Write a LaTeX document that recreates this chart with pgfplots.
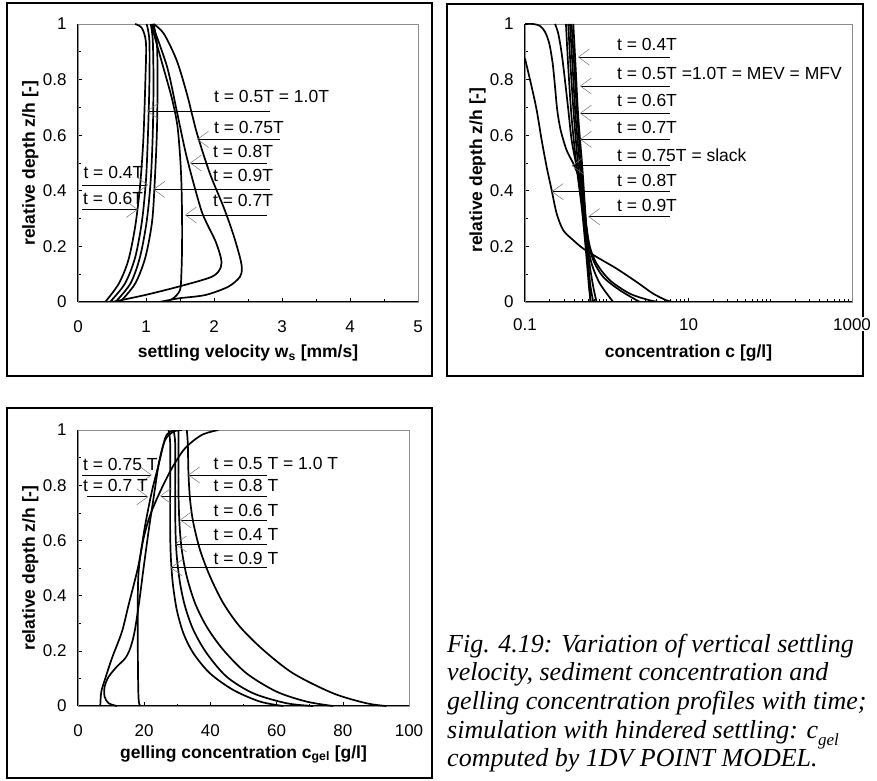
\documentclass[border=0pt]{standalone}
\usepackage{fontspec}
\setmainfont{Liberation Sans}
\newfontfamily\capfont{Liberation Serif}
\usepackage{pgfplots}
\pgfplotsset{compat=1.18}
\usetikzlibrary{arrows.meta}
\newcommand{\tickfont}{\fontsize{17}{19}\selectfont}
\newcommand{\annfont}{\fontsize{17.5}{20}\selectfont}
\newcommand{\capsize}{\fontsize{26}{28.7}\selectfont}
\pgfplotsset{
  panel/.style={
    scale only axis,
    axis x line*=bottom, axis y line*=left,
    axis line style={line width=1.1pt, black},
    tick align=inside,
    major tick length=4pt, minor tick length=2.5pt,
    tick style={line width=0.6pt, black},
    ymin=0, ymax=1,
    ytick={0,0.2,0.4,0.6,0.8,1},
    minor y tick num=1,
    ticklabel style={font=\tickfont},
    /pgf/number format/assume math mode=true,
    xticklabel style={yshift=-15pt},
    yticklabel style={xshift=-8pt},
    every axis x label/.style={at={(axis description cs:0.5,0)}, anchor=base, yshift=-56pt, font=\annfont\bfseries},
    every axis y label/.style={at={(axis description cs:0,0.5)}, xshift=-43pt, rotate=90, anchor=base, font=\annfont\bfseries},
    clip mode=individual,
  },
  curve/.style={black, line width=1.7pt, smooth, tension=0.5, mark=none},
}
\newcommand{\ann}[6]{%
  \node[anchor=base west, inner sep=0pt, font=\annfont] at (axis cs:#1,#2) {#3};
  \draw[line width=0.8pt, -{Straight Barb[length=11pt,width=16pt,line width=0.5pt,color=black!55]}] (axis cs:#4,#6) -- (axis cs:#5,#6);
}
\begin{document}
\begin{tikzpicture}
\useasboundingbox (0,0) rectangle (877pt,780pt);

% panel frames
\draw[line width=1.3pt] (7pt,404pt) rectangle (432pt,777pt);
\draw[line width=1.3pt] (447pt,404pt) rectangle (863pt,776pt);
\draw[line width=1.3pt] (7pt,2pt) rectangle (432pt,372pt);

% ---------------- Panel 1: settling velocity ----------------
\begin{axis}[panel,
  at={(78pt,478pt)}, anchor=south west,
  width=340pt, height=278pt,
  xmin=0, xmax=5, xtick={0,1,2,3,4,5}, minor x tick num=1,
  xlabel={settling velocity w\textsubscript{s} [mm/s]},
  ylabel={relative depth z/h [-]},
]
\draw[black!45, line width=0.6pt] (rel axis cs:0,0) rectangle (rel axis cs:1,1);
% t = 0.4T
\addplot[curve] coordinates {(0.40,0) (0.60,0.066) (0.74,0.15) (0.84,0.27) (0.91,0.41) (0.96,0.58) (0.99,0.79) (1.00,0.93) (0.94,0.985) (0.84,1.0)};
% t = 0.6T
\addplot[curve] coordinates {(0.47,0) (0.69,0.066) (0.84,0.16) (0.94,0.29) (1.00,0.44) (1.03,0.61) (1.05,0.79) (1.05,0.94) (1.01,1.0)};
% t = 0.5T = 1.0T
\addplot[curve] coordinates {(0.55,0) (0.77,0.066) (0.91,0.16) (1.01,0.29) (1.07,0.44) (1.10,0.61) (1.11,0.79) (1.10,0.94) (1.07,1.0)};
% t = 0.9T
\addplot[curve] coordinates {(0.62,0) (0.84,0.066) (0.99,0.16) (1.09,0.29) (1.13,0.44) (1.16,0.61) (1.17,0.79) (1.16,0.93) (1.11,1.0)};
% t = 0.7T
\addplot[curve] coordinates {(1.28,0) (1.40,0.013) (1.50,0.043) (1.52,0.10) (1.53,0.193) (1.53,0.313) (1.52,0.433) (1.50,0.529) (1.46,0.637) (1.38,0.733) (1.23,0.865) (1.08,0.996)};
% t = 0.8T
\addplot[curve] coordinates {(0.50,0) (0.985,0.025) (1.475,0.055) (1.97,0.091) (2.10,0.125) (2.10,0.16) (2.02,0.22) (1.90,0.28) (1.80,0.34) (1.60,0.52) (1.45,0.69) (1.31,0.846) (1.09,1.0)};
% t = 0.75T
\addplot[curve] coordinates {(1.20,0) (1.475,0.013) (1.87,0.025) (2.21,0.055) (2.38,0.09) (2.41,0.12) (2.38,0.162) (2.28,0.246) (2.14,0.342) (1.94,0.462) (1.75,0.606) (1.60,0.75) (1.45,0.87) (1.26,0.966) (1.11,1.0)};
\ann{2.0}{0.719}{t = 0.5T = 1.0T}{2.824}{1.015}{0.687}
\ann{2.0}{0.607}{t = 0.75T}{2.97}{1.75}{0.585}
\ann{1.985}{0.5205}{t = 0.8T}{2.78}{1.647}{0.50}
\ann{1.985}{0.433}{t = 0.9T}{2.824}{1.107}{0.405}
\ann{1.985}{0.343}{t = 0.7T}{2.78}{1.574}{0.313}
\ann{0.078}{0.445}{t = 0.4T}{0.059}{1.03}{0.421}
\ann{0.074}{0.3525}{t = 0.6T}{0.059}{0.88}{0.333}
\end{axis}

% ---------------- Panel 2: concentration ----------------
\begin{axis}[panel,
  at={(525pt,478pt)}, anchor=south west,
  width=327pt, height=278pt,
  xmode=log, xmin=0.1, xmax=1000,
  xtick={0.1,10,1000}, xticklabels={0.1,10,1000},
  xticklabel style={fill=white, inner sep=1pt},
  minor xtick={0.2,0.3,0.4,0.5,0.6,0.7,0.8,0.9,1,2,3,4,5,6,7,8,9,20,30,40,50,60,70,80,90,100,200,300,400,500,600,700,800,900},
  xlabel={concentration c [g/l]},
  ylabel={relative depth z/h [-]},
  every axis y label/.append style={xshift=-7pt},
]
\draw[black!45, line width=0.6pt] (rel axis cs:0,0) rectangle (rel axis cs:1,1);
% t = 0.8T
\addplot[curve] coordinates {(0.100,0.876) (0.1206,0.774) (0.139,0.690) (0.160,0.582) (0.184,0.486) (0.212,0.402) (0.244,0.318) (0.294,0.258) (0.390,0.222) (0.516,0.192) (0.752,0.162) (1.32,0.120) (2.32,0.072) (3.70,0.030) (5.38,0.006) (6.50,0)};
% t = 0.75T = slack
\addplot[curve] coordinates {(0.100,1.0) (0.1265,1.0) (0.1525,0.993) (0.1755,0.972) (0.198,0.930) (0.218,0.858) (0.233,0.774) (0.248,0.690) (0.273,0.618) (0.323,0.546) (0.390,0.498) (0.470,0.438) (0.526,0.366) (0.567,0.270) (0.622,0.198) (0.752,0.138) (1.094,0.078) (1.92,0.030) (3.37,0.006) (4.47,0)};
% t = 0.9T
\addplot[curve] coordinates {(0.233,1.0) (0.255,0.966) (0.281,0.894) (0.308,0.798) (0.339,0.690) (0.372,0.582) (0.428,0.486) (0.492,0.390) (0.541,0.306) (0.594,0.222) (0.684,0.150) (0.906,0.090) (1.45,0.042) (2.54,0)};
% t = 0.4T
\addplot[curve] coordinates {(0.317,1.0) (0.338,0.846) (0.371,0.666) (0.428,0.486) (0.493,0.342) (0.541,0.222) (0.578,0.126) (0.606,0.054) (0.634,0)};
% t = 0.5T = 1.0T
\addplot[curve] coordinates {(0.338,1.0) (0.361,0.846) (0.397,0.666) (0.448,0.486) (0.507,0.342) (0.551,0.222) (0.594,0.126) (0.634,0.054) (0.684,0)};
% t = 0.6T
\addplot[curve] coordinates {(0.355,1.0) (0.382,0.846) (0.416,0.666) (0.470,0.486) (0.521,0.342) (0.567,0.222) (0.623,0.126) (0.684,0.054) (0.751,0)};
% t = 0.7T
\addplot[curve] coordinates {(0.371,1.0) (0.401,0.846) (0.436,0.666) (0.488,0.486) (0.531,0.342) (0.578,0.222) (0.653,0.138) (0.825,0.066) (1.20,0)};
% MEV / MFV
\addplot[curve] coordinates {(0.390,1.0) (0.416,0.846) (0.448,0.666) (0.502,0.486) (0.541,0.342) (0.572,0.222) (0.600,0.126) (0.617,0.054) (0.634,0)};
\ann{1.331}{0.906}{t = 0.4T}{5.92}{0.444}{0.881}
\ann{1.331}{0.799}{t = 0.5T =1.0T = MEV = MFV}{5.92}{0.470}{0.777}
\ann{1.331}{0.7025}{t = 0.6T}{5.92}{0.470}{0.679}
\ann{1.331}{0.607}{t = 0.7T}{5.92}{0.470}{0.585}
\ann{1.331}{0.5047}{t = 0.75T = slack}{5.92}{0.372}{0.490}
\ann{1.331}{0.415}{t = 0.8T}{5.92}{0.212}{0.397}
\ann{1.331}{0.325}{t = 0.9T}{5.92}{0.5935}{0.307}
\end{axis}

% ---------------- Panel 3: gelling concentration ----------------
\begin{axis}[panel,
  at={(78pt,74pt)}, anchor=south west,
  width=331pt, height=276pt,
  xmin=0, xmax=100, xtick={0,20,40,60,80,100}, minor x tick num=1,
  xlabel={gelling concentration c\textsubscript{gel} [g/l]},
  ylabel={relative depth z/h [-]},
  every axis x label/.append style={yshift=4pt},
]
\draw[black!45, line width=0.6pt] (rel axis cs:0,0) rectangle (rel axis cs:1,1);
% t = 0.75T
\addplot[curve] coordinates {(6.73,0) (7.04,0.052) (8.24,0.100) (10.25,0.173) (13.27,0.269) (15.28,0.366) (18.29,0.511) (20.30,0.656) (22.31,0.777) (24.32,0.873) (26.33,0.97) (27.84,0.994) (29.35,1.0)};
% t = 0.7T
\addplot[curve] coordinates {(11.76,0) (9.25,0.010) (8.04,0.034) (8.04,0.070) (9.25,0.106) (11.76,0.143) (14.27,0.173) (15.78,0.209) (17.09,0.269) (18.49,0.378) (19.80,0.499) (21.31,0.632) (22.81,0.752) (24.52,0.885) (26.33,0.964) (28.84,0.994) (31.36,1.0)};
% t = 0.8T
\addplot[curve] coordinates {(18.79,0) (18.29,0.028) (18.09,0.173) (18.09,0.414) (18.49,0.511) (19.80,0.607) (21.81,0.692) (24.82,0.777) (28.34,0.861) (32.36,0.934) (37.39,0.982) (42.41,1.0)};
% t = 0.9T
\addplot[curve] coordinates {(27.34,1.0) (27.84,0.952) (27.84,0.783) (27.84,0.638) (28.04,0.541) (28.64,0.444) (29.85,0.348) (31.86,0.263) (34.87,0.191) (39.90,0.118) (46.93,0.058) (54.97,0.016) (62.01,0)};
% t = 0.4T
\addplot[curve] coordinates {(28.84,1.0) (29.35,0.952) (29.35,0.783) (29.45,0.638) (29.85,0.541) (30.85,0.444) (32.36,0.360) (34.87,0.275) (38.89,0.191) (44.92,0.106) (52.96,0.046) (63.02,0.010) (71.06,0)};
% t = 0.6T
\addplot[curve] coordinates {(30.35,1.0) (30.35,0.952) (30.35,0.783) (30.65,0.662) (31.36,0.565) (32.86,0.469) (35.38,0.372) (38.89,0.287) (43.92,0.203) (50.95,0.118) (60.0,0.052) (69.05,0.016) (77.09,0)};
% t = 0.5T = 1.0T
\addplot[curve] coordinates {(32.86,1.0) (33.17,0.952) (33.37,0.843) (33.87,0.746) (34.87,0.662) (36.88,0.565) (39.90,0.469) (43.92,0.372) (48.94,0.287) (55.98,0.203) (65.03,0.118) (77.09,0.046) (87.14,0.010) (93.17,0)};
\ann{1.51}{0.855}{t = 0.75 T}{1.3}{22.3}{0.837}
\ann{1.51}{0.7765}{t = 0.7 T}{2.8}{21.2}{0.758}
\ann{40.9}{0.8576}{t = 0.5 T = 1.0 T}{57.0}{33.3}{0.837}
\ann{40.9}{0.7765}{t = 0.8 T}{57.0}{24.8}{0.761}
\ann{40.9}{0.686}{t = 0.6 T}{57.0}{30.8}{0.674}
\ann{40.9}{0.599}{t = 0.4 T}{57.0}{29.3}{0.587}
\ann{40.9}{0.5145}{t = 0.9 T}{57.0}{28.0}{0.501}
\end{axis}

% caption
\begin{scope}[every node/.style={anchor=base west, inner sep=0pt, font=\capfont\itshape\capsize}]
\node at (447pt,128pt) {Fig. 4.19: Variation of vertical settling};
\node at (447pt,99.3pt) {velocity, sediment concentration and};
\node at (447pt,70.6pt) {gelling concentration profiles with time;};
\node at (447pt,41.9pt) {simulation with hindered settling: \textit{c}\raisebox{-0.3em}{\fontsize{17}{17}\selectfont\itshape gel}};
\node at (447pt,13.2pt) {computed by 1DV POINT MODEL.};
\end{scope}
\end{tikzpicture}
\end{document}
